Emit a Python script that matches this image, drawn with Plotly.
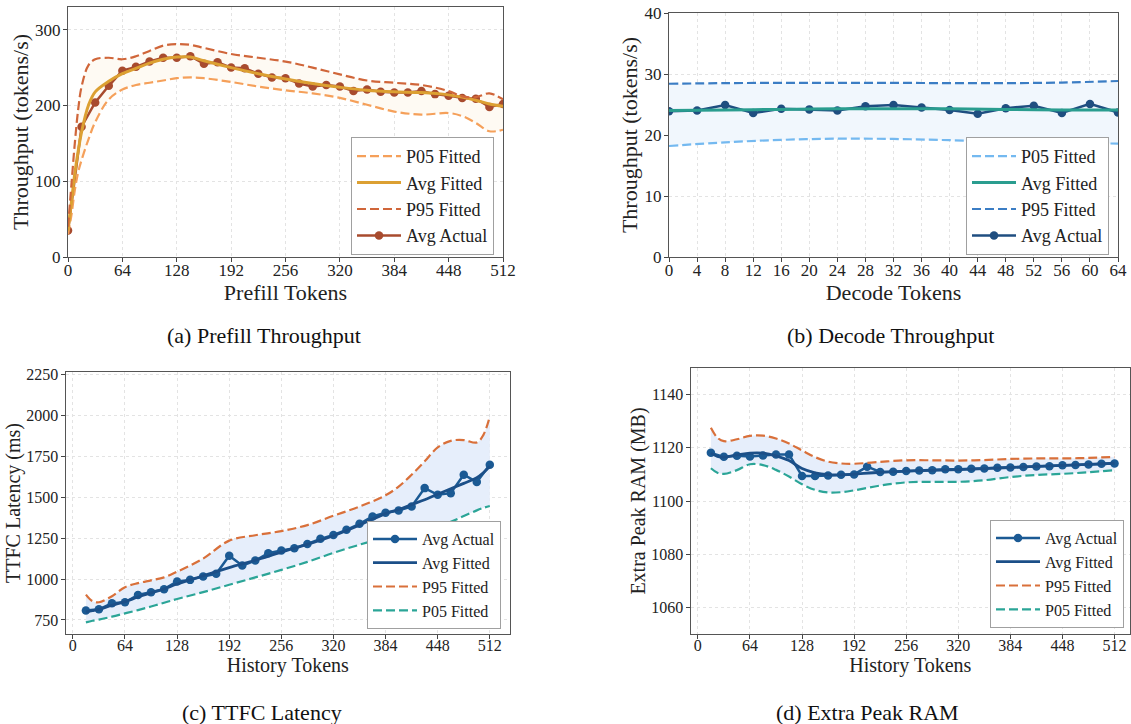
import plotly.graph_objects as go

FONT = "Liberation Serif, Times New Roman, serif"

# ---------------- (a) Prefill Throughput ----------------
prefill_x = [0, 16, 32, 48, 64, 80, 96, 112, 128, 144, 160, 176, 192, 208, 224, 240, 256,
             272, 288, 304, 320, 336, 352, 368, 384, 400, 416, 432, 448, 464, 480, 496, 512]
prefill_avg_actual = [35, 172, 204, 226, 246, 251, 258, 263, 263, 265, 255, 257, 250, 249, 242, 237, 236,
                      229, 225, 227, 225, 219, 221, 218, 217, 217, 219, 215, 213, 210, 209, 198, 202]
prefill_fit_x = [0, 4, 8, 12, 16, 24, 32, 48, 64, 80, 96, 112, 128, 144, 160, 192, 224, 256,
                 288, 320, 352, 384, 416, 448, 464, 480, 496, 512]
prefill_p05 = [30, 55, 88, 112, 128, 155, 178, 208, 221, 227, 230, 233, 236, 237, 236, 231, 225, 220,
               216, 210, 201, 192, 188, 190, 186, 177, 166, 168]
prefill_avg_fit = [35, 72, 110, 140, 165, 200, 218, 232, 242, 249, 256, 261, 264, 264, 259, 250, 242, 235,
                   229, 224, 220, 218, 217, 214, 211, 207, 202, 199]
prefill_p95 = [40, 95, 150, 195, 225, 253, 261, 263, 261, 265, 272, 279, 281, 280, 276, 268, 263, 258,
               250, 241, 233, 230, 227, 219, 212, 211, 216, 208]

# ---------------- (b) Decode Throughput ----------------
decode_x = [0, 4, 8, 12, 16, 20, 24, 28, 32, 36, 40, 44, 48, 52, 56, 60, 64]
decode_avg_actual = [23.9, 24.0, 24.9, 23.6, 24.3, 24.2, 24.0, 24.7, 24.9, 24.5, 24.1, 23.5, 24.4, 24.8, 23.6, 25.1, 23.7]
decode_fit_x = [0, 8, 16, 24, 32, 40, 48, 56, 64]
decode_p05 = [18.2, 18.8, 19.2, 19.4, 19.35, 19.15, 18.9, 18.7, 18.6]
decode_avg_fit = [24.0, 24.1, 24.2, 24.3, 24.3, 24.3, 24.2, 24.1, 24.1]
decode_p95 = [28.4, 28.5, 28.55, 28.55, 28.55, 28.5, 28.5, 28.6, 28.85]

# ---------------- (c) TTFC Latency ----------------
hist_x = [16, 32, 48, 64, 80, 96, 112, 128, 144, 160, 176, 192, 208, 224, 240, 256,
          272, 288, 304, 320, 336, 352, 368, 384, 400, 416, 432, 448, 464, 480, 496, 512]
ttfc_avg_actual = [807, 815, 852, 858, 903, 919, 938, 985, 995, 1015, 1032, 1142, 1083, 1113, 1158, 1174,
                   1189, 1215, 1246, 1270, 1301, 1338, 1383, 1405, 1419, 1444, 1556, 1515, 1525, 1638, 1593, 1699]
ttfc_fit_x = [16, 24, 32, 48, 64, 80, 96, 112, 128, 160, 192, 224, 256, 288, 320, 352, 384,
              400, 416, 432, 448, 464, 480, 496, 504, 512]
ttfc_avg_fit = [800, 807, 815, 840, 862, 890, 915, 940, 970, 1020, 1070, 1115, 1165, 1212, 1265, 1330, 1400,
                1425, 1455, 1485, 1518, 1552, 1585, 1620, 1650, 1690]
ttfc_p95 = [905, 865, 858, 895, 950, 975, 992, 1010, 1045, 1125, 1235, 1268, 1293, 1330, 1387, 1443, 1512,
            1565, 1638, 1720, 1805, 1845, 1850, 1835, 1880, 1995]
ttfc_p05 = [735, 745, 752, 770, 790, 810, 832, 855, 878, 920, 965, 1010, 1056, 1105, 1160, 1210, 1255,
            1278, 1300, 1318, 1332, 1350, 1385, 1420, 1435, 1447]

# ---------------- (d) Extra Peak RAM ----------------
ram_avg_actual = [1118.1, 1116.6, 1117.0, 1116.75, 1117.1, 1117.5, 1117.5, 1109.4, 1109.4, 1109.6, 1109.9,
                  1110.0, 1112.9, 1110.9, 1111.0, 1111.25, 1111.5, 1111.6, 1111.9, 1111.9, 1112.1, 1112.25,
                  1112.5, 1112.6, 1112.75, 1113.0, 1113.1, 1113.4, 1113.5, 1113.75, 1114.0, 1114.1]
ram_fit_x = [16, 24, 32, 48, 64, 80, 96, 112, 128, 144, 160, 176, 192, 224, 256, 288, 320, 352, 384, 416, 448, 480, 512]
ram_avg_fit = [1118.0, 1116.8, 1116.5, 1117.3, 1118.0, 1118.0, 1117.0, 1115.2, 1112.2, 1110.6, 1109.9, 1109.8,
               1110.1, 1110.8, 1111.2, 1111.5, 1111.8, 1112.2, 1112.6, 1113.0, 1113.4, 1113.8, 1114.2]
ram_p95 = [1127.5, 1123.8, 1122.5, 1123.2, 1124.5, 1124.6, 1123.5, 1121.6, 1119.0, 1116.5, 1114.8, 1114.1,
           1114.0, 1114.7, 1115.3, 1115.3, 1115.2, 1115.4, 1115.8, 1116.0, 1116.0, 1116.2, 1116.6]
ram_p05 = [1112.3, 1110.6, 1110.2, 1111.6, 1113.8, 1113.5, 1111.7, 1109.2, 1106.3, 1104.2, 1103.2, 1103.3,
           1104.0, 1105.8, 1107.0, 1107.2, 1107.2, 1107.8, 1109.0, 1109.8, 1110.2, 1110.8, 1111.6]

captions = ["(a) Prefill Throughput", "(b) Decode Throughput", "(c) TTFC Latency", "(d) Extra Peak RAM"]

W, H = 1131, 724
DASH = "9px,4px"

fig = go.Figure()


def band(xs, lo, hi, fill, xa, ya):
    fig.add_trace(go.Scatter(x=xs, y=lo, mode="lines", line=dict(width=0, shape="spline"),
                             showlegend=False, hoverinfo="skip", xaxis=xa, yaxis=ya))
    fig.add_trace(go.Scatter(x=xs, y=hi, mode="lines", line=dict(width=0, shape="spline"),
                             fill="tonexty", fillcolor=fill, showlegend=False, hoverinfo="skip",
                             xaxis=xa, yaxis=ya))


def fitted(xs, ys, name, color, dash, width, xa, ya, leg, rank):
    fig.add_trace(go.Scatter(x=xs, y=ys, name=name, mode="lines",
                             line=dict(color=color, width=width, dash=dash, shape="spline"),
                             xaxis=xa, yaxis=ya, legend=leg, legendrank=rank))


def actual(xs, ys, name, color, xa, ya, leg, rank, msize=8.5):
    fig.add_trace(go.Scatter(x=xs, y=ys, name=name, mode="lines+markers",
                             line=dict(color=color, width=2.5),
                             marker=dict(color=color, size=msize),
                             xaxis=xa, yaxis=ya, legend=leg, legendrank=rank))


# (a)
band(prefill_fit_x, prefill_p05, prefill_p95, "#FEFAF3", "x", "y")
actual(prefill_x, prefill_avg_actual, "Avg Actual", "#A84B2E", "x", "y", "legend", 4)
fitted(prefill_fit_x, prefill_p05, "P05 Fitted", "#F5A05A", DASH, 2.2, "x", "y", "legend", 1)
fitted(prefill_fit_x, prefill_avg_fit, "Avg Fitted", "#DCA032", "solid", 3, "x", "y", "legend", 2)
fitted(prefill_fit_x, prefill_p95, "P95 Fitted", "#D0663A", DASH, 2.2, "x", "y", "legend", 3)

# (b)
band(decode_fit_x, decode_p05, decode_p95, "#F1F7FD", "x2", "y2")
actual(decode_x, decode_avg_actual, "Avg Actual", "#1F4E80", "x2", "y2", "legend2", 4)
fitted(decode_fit_x, decode_p05, "P05 Fitted", "#74B9F0", DASH, 2.2, "x2", "y2", "legend2", 1)
fitted(decode_fit_x, decode_avg_fit, "Avg Fitted", "#2A9D8F", "solid", 3, "x2", "y2", "legend2", 2)
fitted(decode_fit_x, decode_p95, "P95 Fitted", "#3B7DC4", DASH, 2.2, "x2", "y2", "legend2", 3)

# (c)
band(ttfc_fit_x, ttfc_p05, ttfc_p95, "#E6EEFB", "x3", "y3")
actual(hist_x, ttfc_avg_actual, "Avg Actual", "#1B5A94", "x3", "y3", "legend3", 1)
fitted(ttfc_fit_x, ttfc_avg_fit, "Avg Fitted", "#1B4F88", "solid", 2.8, "x3", "y3", "legend3", 2)
fitted(ttfc_fit_x, ttfc_p95, "P95 Fitted", "#D9703A", DASH, 2.2, "x3", "y3", "legend3", 3)
fitted(ttfc_fit_x, ttfc_p05, "P05 Fitted", "#2BA597", DASH, 2.2, "x3", "y3", "legend3", 4)

# (d)
band(ram_fit_x, ram_p05, ram_p95, "#E6EEFB", "x4", "y4")
actual(hist_x, ram_avg_actual, "Avg Actual", "#1B5A94", "x4", "y4", "legend4", 1)
fitted(ram_fit_x, ram_avg_fit, "Avg Fitted", "#1B4F88", "solid", 2.8, "x4", "y4", "legend4", 2)
fitted(ram_fit_x, ram_p95, "P95 Fitted", "#D9703A", DASH, 2.2, "x4", "y4", "legend4", 3)
fitted(ram_fit_x, ram_p05, "P05 Fitted", "#2BA597", DASH, 2.2, "x4", "y4", "legend4", 4)


def px_x(p):
    return min(1.0, max(0.0, p / W))


def px_y(p):
    return min(1.0, max(0.0, 1 - p / H))


def axis(dom, anchor, rng, tickvals, tsize, title, title_size, standoff, lab_off):
    return dict(domain=dom, anchor=anchor, range=rng, tickvals=tickvals, automargin=False,
                ticks="outside", ticklen=4, tickcolor="#444", tickwidth=1,
                ticklabelstandoff=lab_off,
                showline=True, mirror=True, linecolor="#555", linewidth=1.3,
                showgrid=True, gridcolor="#e3e3e3", griddash="3px,3px", gridwidth=1,
                zeroline=False, tickfont=dict(family=FONT, size=tsize, color="#222"),
                title=dict(text=title, font=dict(family=FONT, size=title_size, color="#222"),
                           standoff=standoff))


layout = dict(
    width=W, height=H, margin=dict(l=0, r=0, t=0, b=0, autoexpand=False),
    paper_bgcolor="white", plot_bgcolor="white",
    font=dict(family=FONT, color="#222"),
    xaxis=axis([px_x(68), px_x(503)], "y", [0, 512], [0, 64, 128, 192, 256, 320, 384, 448, 512],
               17, "Prefill Tokens", 22, 2, -7),
    yaxis=axis([px_y(257), px_y(7)], "x", [0, 330], [0, 100, 200, 300],
               17, "Throughput (tokens/s)", 22, 0, -1),
    xaxis2=axis([px_x(669), px_x(1118)], "y2", [0, 64], list(range(0, 65, 4)),
                17, "Decode Tokens", 22, 2, -7),
    yaxis2=axis([px_y(257), px_y(13)], "x2", [0, 40], [0, 10, 20, 30, 40],
                17, "Throughput (tokens/s)", 22, 0, -1),
    xaxis3=axis([px_x(65.7), px_x(510)], "y3", [-8.8, 536.8], [0, 64, 128, 192, 256, 320, 384, 448, 512],
                16, "History Tokens", 20, 2, -7),
    yaxis3=axis([px_y(634), px_y(372)], "x3", [664, 2266], [750, 1000, 1250, 1500, 1750, 2000, 2250],
                16, "TTFC Latency (ms)", 20, 0, -1),
    xaxis4=axis([px_x(690.7), px_x(1130)], "y4", [-8.8, 531], [0, 64, 128, 192, 256, 320, 384, 448, 512],
                16, "History Tokens", 20, 2, -7),
    yaxis4=axis([px_y(634), px_y(368)], "x4", [1050, 1150], [1060, 1080, 1100, 1120, 1140],
                16, "Extra Peak RAM (MB)", 20, 0, -1),
)


def legend(xr, yt, size):
    return dict(x=xr, y=yt, xanchor="right", yanchor="top", xref="paper", yref="paper",
                bgcolor="white", bordercolor="#a0a0a0", borderwidth=1, itemwidth=44,
                font=dict(family=FONT, size=size, color="#222"), traceorder="normal")


layout["legend"] = legend(px_x(494), px_y(137), 18)
layout["legend2"] = legend(px_x(1109), px_y(137), 18)
layout["legend3"] = legend(px_x(501), px_y(521), 16)
layout["legend4"] = legend(px_x(1124), px_y(520), 16)

fig.update_layout(**layout)

cap_pos = [(264, 336), (890, 336), (262, 712), (867, 712)]
for text, (cx, cy) in zip(captions, cap_pos):
    fig.add_annotation(text=text, x=px_x(cx), y=px_y(cy), xref="paper", yref="paper",
                       showarrow=False, xanchor="center", yanchor="middle",
                       font=dict(family=FONT, size=22, color="#111"))

fig.write_html("out.html", config={"displayModeBar": False},
               post_script="document.body.style.margin='0px';document.body.style.overflow='hidden';")
